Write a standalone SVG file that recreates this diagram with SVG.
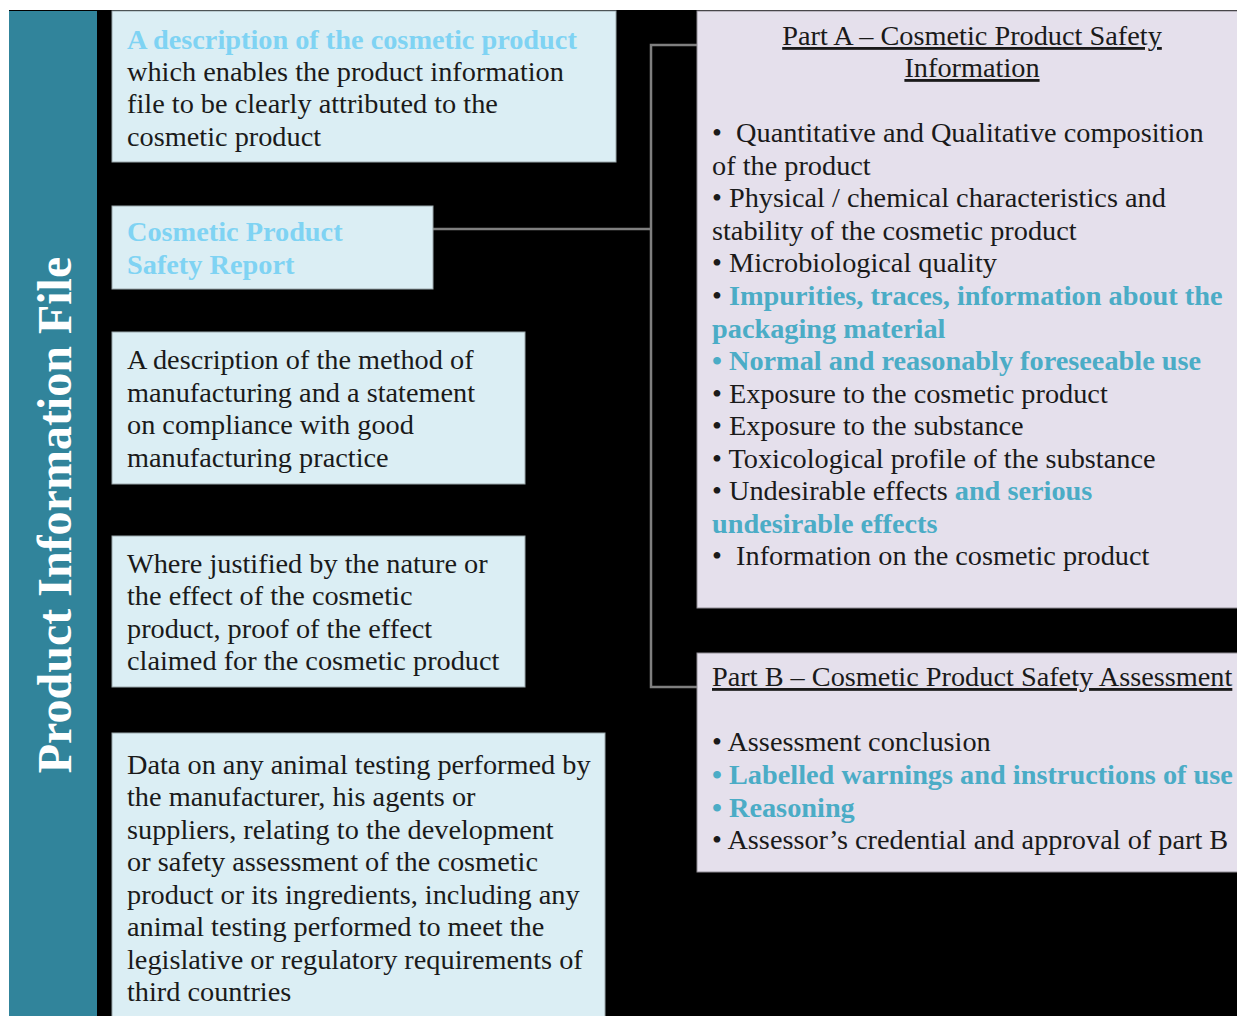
<svg xmlns="http://www.w3.org/2000/svg" width="1237" height="1016" viewBox="0 0 1237 1016">
<style>
text{font-family:"Liberation Serif","Times New Roman",serif;font-size:28.3px;fill:#1a1a1a}
.hl{font-weight:bold;fill:#7fd3f3}
.hd{font-weight:bold;fill:#4bacc6}
.bx{fill:#dbeef4;stroke:#9aa7ab;stroke-width:1}
.px{fill:#e5e0ec;stroke:#8f8c94;stroke-width:1}
.ul{text-decoration:underline}
.conn{fill:none;stroke:#7f7f7f;stroke-width:2.5}
</style>
<rect x="0" y="0" width="1237" height="1016" fill="#ffffff"/>
<rect x="9" y="10" width="1228" height="1006" fill="#000000"/>
<g id="title">
<rect x="9" y="11" width="88" height="1005" fill="#31849b"/>
<text transform="translate(71,515) rotate(-90)" text-anchor="middle" style="font-size:48px;font-weight:bold;fill:#ffffff">Product Information File</text>
</g>
<g id="connectors">
<path class="conn" d="M433,229 H651"/>
<path class="conn" d="M697,45 H651 V687 H697"/>
</g>
<g id="box1">
<rect class="bx" x="112" y="11" width="504" height="151"/>
<text x="127" y="49" class="hl">A description of the cosmetic product</text>
<text x="127" y="81">which enables the product information</text>
<text x="127" y="113">file to be clearly attributed to the</text>
<text x="127" y="146">cosmetic product</text>
</g>
<g id="box2">
<rect class="bx" x="112" y="206" width="321" height="83"/>
<text x="127" y="241" class="hl">Cosmetic Product</text>
<text x="127" y="274" class="hl">Safety Report</text>
</g>
<g id="box3">
<rect class="bx" x="112" y="332" width="413" height="152"/>
<text x="127" y="369">A description of the method of</text>
<text x="127" y="402">manufacturing and a statement</text>
<text x="127" y="434">on compliance with good</text>
<text x="127" y="467">manufacturing practice</text>
</g>
<g id="box4">
<rect class="bx" x="112" y="536" width="413" height="151"/>
<text x="127" y="573">Where justified by the nature or</text>
<text x="127" y="605">the effect of the cosmetic</text>
<text x="127" y="638">product, proof of the effect</text>
<text x="127" y="670">claimed for the cosmetic product</text>
</g>
<g id="box5">
<rect class="bx" x="112" y="733" width="493" height="290"/>
<text x="127" y="774">Data on any animal testing performed by</text>
<text x="127" y="806">the manufacturer, his agents or</text>
<text x="127" y="839">suppliers, relating to the development</text>
<text x="127" y="871">or safety assessment of the cosmetic</text>
<text x="127" y="904">product or its ingredients, including any</text>
<text x="127" y="936">animal testing performed to meet the</text>
<text x="127" y="969">legislative or regulatory requirements of</text>
<text x="127" y="1001">third countries</text>
</g>
<g id="partA">
<rect class="px" x="697" y="11" width="545" height="597"/>
<text x="972" y="45" text-anchor="middle" class="ul">Part A – Cosmetic Product Safety</text>
<text x="972" y="77" text-anchor="middle" class="ul">Information</text>
<text x="712" y="142" xml:space="preserve">•  Quantitative and Qualitative composition</text>
<text x="712" y="175">of the product</text>
<text x="712" y="207">• Physical / chemical characteristics and</text>
<text x="712" y="240">stability of the cosmetic product</text>
<text x="712" y="272">• Microbiological quality</text>
<text x="712" y="305">• <tspan class="hd">Impurities, traces, information about the</tspan></text>
<text x="712" y="338" class="hd">packaging material</text>
<text x="712" y="370" class="hd">• Normal and reasonably foreseeable use</text>
<text x="712" y="403">• Exposure to the cosmetic product</text>
<text x="712" y="435">• Exposure to the substance</text>
<text x="712" y="468">• Toxicological profile of the substance</text>
<text x="712" y="500">• Undesirable effects <tspan class="hd">and serious</tspan></text>
<text x="712" y="533" class="hd">undesirable effects</text>
<text x="712" y="565" xml:space="preserve">•  Information on the cosmetic product</text>
</g>
<g id="partB">
<rect class="px" x="697" y="653" width="545" height="219"/>
<text x="712" y="686" class="ul">Part B – Cosmetic Product Safety Assessment</text>
<text x="712" y="751">• Assessment conclusion</text>
<text x="712" y="784" class="hd">• Labelled warnings and instructions of use</text>
<text x="712" y="817" class="hd">• Reasoning</text>
<text x="712" y="849">• Assessor’s credential and approval of part B</text>
</g>
</svg>
